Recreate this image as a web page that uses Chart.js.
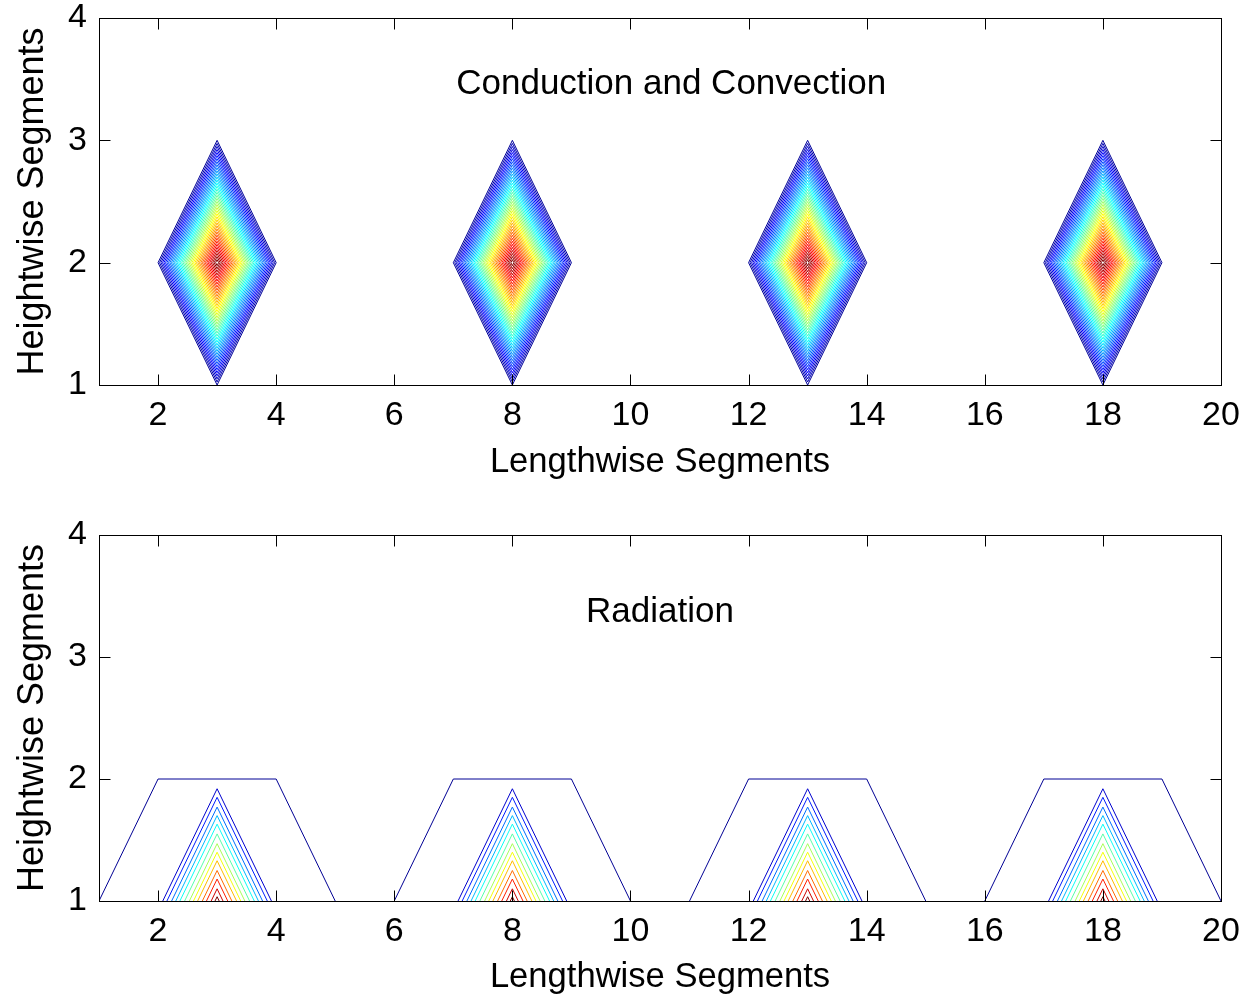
<!DOCTYPE html>
<html>
<head>
<meta charset="utf-8">
<script src="https://cdn.jsdelivr.net/npm/chart.js@4.4.1/dist/chart.umd.min.js"></script>
<style>
  html, body { margin: 0; padding: 0; background: #fff; }
  .panel { position: absolute; left: 0; width: 1245px; height: 497px; }
</style>
</head>
<body>
<div class="panel" style="top:0"><canvas id="conv"></canvas></div>
<div class="panel" style="top:497px"><canvas id="rad"></canvas></div>
<script>
// heat sources along the plate (lengthwise segment index, heightwise segment index)
var centers = [3, 8, 13, 18];
var centerY = 2;

// conduction/convection contours: half-diagonal of each diamond, outer to inner
var convLevels = [1.000, 0.975, 0.950, 0.925, 0.900, 0.875, 0.850, 0.825, 0.800, 0.775,
                  0.750, 0.725, 0.700, 0.675, 0.650, 0.625, 0.600, 0.575, 0.550, 0.525,
                  0.500, 0.475, 0.450, 0.425, 0.400, 0.375, 0.350, 0.325, 0.300, 0.275,
                  0.250, 0.225, 0.200, 0.175, 0.150, 0.125, 0.100, 0.075, 0.050, 0.025];

// radiation contours: lowest level is a plateau, the rest are triangles on the bottom edge
var radPlateau = { halfBase: 2, halfTop: 1, bottom: 1, top: 2 };
var radHeights = [0.92, 0.85, 0.77, 0.70, 0.63, 0.55, 0.47, 0.40, 0.33, 0.25, 0.18, 0.10, 0.035];

var xTicks = [2, 4, 6, 8, 10, 12, 14, 16, 18, 20];
var yTicks = [1, 2, 3, 4];

var FONT = "'Liberation Sans', Arial, sans-serif";

function jet(t) {
  var c = function (v) { return Math.round(255 * Math.max(0, Math.min(1, v))); };
  return "rgb(" + c(1.5 - Math.abs(4 * t - 3)) + "," + c(1.5 - Math.abs(4 * t - 2)) + "," + c(1.5 - Math.abs(4 * t - 1)) + ")";
}

function line(points, color) {
  return {
    data: points,
    showLine: true,
    borderColor: color,
    borderWidth: 1,
    pointRadius: 0,
    fill: false,
  };
}

// diamonds
var convSets = [];
centers.forEach(function (cx) {
  convLevels.forEach(function (r, i) {
    convSets.push(line([
      { x: cx - r, y: centerY }, { x: cx, y: centerY + r }, { x: cx + r, y: centerY },
      { x: cx, y: centerY - r }, { x: cx - r, y: centerY }
    ], jet((i + 1) / convLevels.length)));
  });
});

// plateau + triangles
var radSets = [];
centers.forEach(function (cx) {
  var p = radPlateau;
  radSets.push(line([
    { x: cx - p.halfBase, y: p.bottom }, { x: cx - p.halfTop, y: p.top },
    { x: cx + p.halfTop, y: p.top }, { x: cx + p.halfBase, y: p.bottom }
  ], jet(0.02)));
  radHeights.forEach(function (h, i) {
    radSets.push(line([
      { x: cx - h, y: p.bottom }, { x: cx, y: p.bottom + h }, { x: cx + h, y: p.bottom }
    ], jet((i + 1) / radHeights.length)));
  });
});

// MATLAB style box with inward ticks and a text label inside the axes
var matlabBox = {
  id: "matlabBox",
  afterDraw: function (chart, args, opts) {
    var ctx = chart.ctx, a = chart.chartArea;
    var xs = chart.scales.x, ys = chart.scales.y;
    var L = Math.round(a.left) + 0.5, R = Math.round(a.right) + 0.5;
    var T = Math.round(a.top) + 0.5, B = Math.round(a.bottom) + 0.5;
    ctx.save();
    ctx.strokeStyle = "#000";
    ctx.lineWidth = 1;
    ctx.strokeRect(L, T, R - L, B - T);
    ctx.beginPath();
    var tl = 11;
    xTicks.forEach(function (v) {
      var px = Math.round(xs.getPixelForValue(v)) + 0.5;
      ctx.moveTo(px, B); ctx.lineTo(px, B - tl);
      ctx.moveTo(px, T); ctx.lineTo(px, T + tl);
    });
    yTicks.forEach(function (v) {
      var py = Math.round(ys.getPixelForValue(v)) + 0.5;
      ctx.moveTo(L, py); ctx.lineTo(L + tl, py);
      ctx.moveTo(R, py); ctx.lineTo(R - tl, py);
    });
    ctx.stroke();
    if (opts.text) {
      ctx.fillStyle = "#000";
      ctx.font = "35px " + FONT;
      ctx.textAlign = "center";
      ctx.textBaseline = "middle";
      ctx.fillText(opts.text, xs.getPixelForValue(opts.x), ys.getPixelForValue(opts.y));
    }
    ctx.restore();
  }
};

function makeChart(id, datasets, label, padTop, xHeight, xTitlePad) {
  return new Chart(document.getElementById(id), {
    type: "scatter",
    data: { datasets: datasets },
    plugins: [matlabBox],
    options: {
      responsive: true,
      maintainAspectRatio: false,
      animation: false,
      events: [],
      layout: { padding: { left: 0, right: 24, top: padTop, bottom: 0 } },
      plugins: {
        legend: { display: false },
        tooltip: { enabled: false },
        matlabBox: label,
      },
      scales: {
        x: {
          type: "linear",
          min: 1,
          max: 20,
          afterBuildTicks: function (s) { s.ticks = xTicks.map(function (v) { return { value: v }; }); },
          afterFit: function (s) { s.height = xHeight; s.paddingLeft = 0; s.paddingRight = 0; },
          grid: { display: false, drawTicks: false },
          border: { display: false },
          ticks: { color: "#000", padding: 10, maxRotation: 0, autoSkip: false, font: { size: 34, family: FONT } },
          title: {
            display: true,
            text: "Lengthwise Segments",
            color: "#000",
            font: { size: 34.6, family: FONT, lineHeight: 0.9 },
            padding: { top: 0, bottom: xTitlePad },
          },
        },
        y: {
          type: "linear",
          min: 1,
          max: 4,
          afterBuildTicks: function (s) { s.ticks = yTicks.map(function (v) { return { value: v }; }); },
          afterFit: function (s) { s.width = 99; s.paddingTop = 0; s.paddingBottom = 0; },
          grid: { display: false, drawTicks: false },
          border: { display: false },
          ticks: { color: "#000", padding: 12, font: { size: 34, family: FONT } },
          title: {
            display: true,
            text: "Heightwise Segments",
            color: "#000",
            font: { size: 36, family: FONT, lineHeight: 1 },
            padding: { top: 15, bottom: 0 },
          },
        },
      },
    },
  });
}

makeChart("conv", convSets, { text: "Conduction and Convection", x: 10.69, y: 3.455 }, 18, 112, 18.7);
makeChart("rad", radSets, { text: "Radiation", x: 10.5, y: 3.365 }, 38, 93, 0.7);
</script>
</body>
</html>
